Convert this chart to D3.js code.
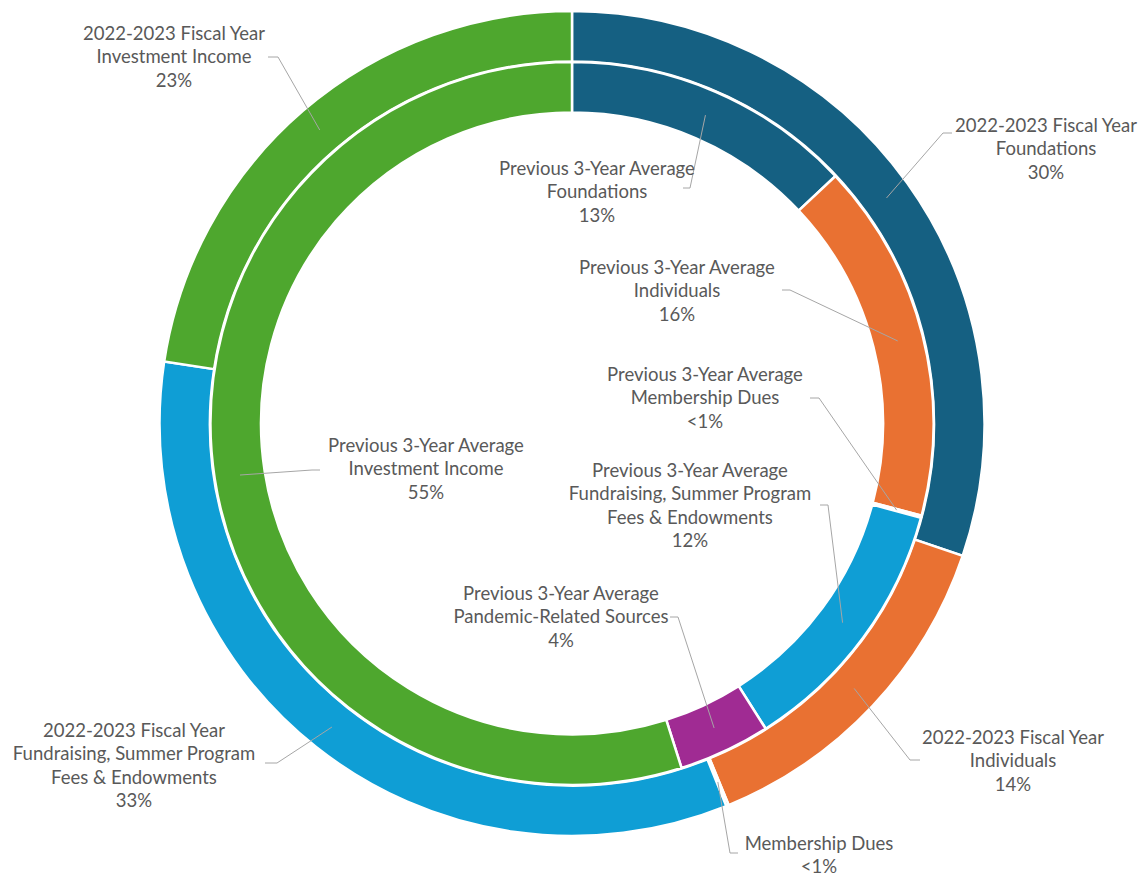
<!DOCTYPE html>
<html>
<head>
<meta charset="utf-8">
<script src="https://cdn.jsdelivr.net/npm/d3@7"></script>
<style>
  html, body { margin: 0; padding: 0; background: #ffffff; }
  svg { display: block; }
</style>
</head>
<body>
<svg id="chart" width="1141" height="876"></svg>
<script>
// ---------------- DATA ----------------
const categories = ["Foundations", "Individuals", "Membership Dues",
  "Fundraising, Summer Program Fees & Endowments", "Pandemic-Related Sources", "Investment Income"];
const categoryLines = [["Foundations"], ["Individuals"], ["Membership Dues"],
  ["Fundraising, Summer Program", "Fees & Endowments"], ["Pandemic-Related Sources"], ["Investment Income"]];
const outerSeriesName = "2022-2023 Fiscal Year";
const innerSeriesName = "Previous 3-Year Average";
const outerValues = [30.2, 13.6, 0.1, 33.5, 0, 22.6];
const innerValues = [13.0, 16.1, 0.1, 11.8, 4.1, 54.9];
const outerPctLabels = ["30%", "14%", "<1%", "33%", "", "23%"];
const innerPctLabels = ["13%", "16%", "<1%", "12%", "4%", "55%"];
const colors = ["#156082", "#E97132", "#196B24", "#0F9ED5", "#A02B93", "#4EA72E"];

// ---------------- LAYOUT ----------------
const W = 1141, H = 876;
const cx = 572, cy = 423.5;
const rings = {
  outer: { inner: 362, outer: 412.5, mid: 387 },
  inner: { inner: 311, outer: 361.5, mid: 336 }
};
const FONT = "Lato, 'Open Sans', sans-serif";
const lineGap = 23.5;
// label placement (layout only): ring, category index, text center x, first-line center y, leader start & elbow
const labelLayout = [
  { ring: "outer", i: 0, x: 1046, y: 125, start: [952, 133], elbow: [943, 133], series: true },
  { ring: "outer", i: 1, x: 1013, y: 737, start: [920, 760], elbow: [910, 760], series: true },
  { ring: "outer", i: 2, x: 819,  y: 843, start: [738, 853], elbow: [730, 853], series: false },
  { ring: "outer", i: 3, x: 134,  y: 730, start: [265, 763], elbow: [277, 763], series: true },
  { ring: "outer", i: 5, x: 174,  y: 33,  start: [268, 57],  elbow: [278, 57],  series: true },
  { ring: "inner", i: 0, x: 597,  y: 168, start: [683, 188], elbow: [690, 188], series: true },
  { ring: "inner", i: 1, x: 677,  y: 267, start: [782, 290], elbow: [790, 290], series: true },
  { ring: "inner", i: 2, x: 705,  y: 374, start: [810, 398], elbow: [819, 398], series: true },
  { ring: "inner", i: 3, x: 690,  y: 470, start: [820, 505], elbow: [828, 505], series: true },
  { ring: "inner", i: 4, x: 561,  y: 593, start: [670, 617], elbow: [678, 617], series: true },
  { ring: "inner", i: 5, x: 426,  y: 445, start: [320, 470], elbow: [312, 470], series: true }
];

const svg = d3.select("#chart");
svg.append("rect").attr("width", W).attr("height", H).attr("fill", "#ffffff");

// font size fitted so the series-name line has the reference width
const probe = svg.append("text").style("font-family", FONT).style("font-size", "100px").text(innerSeriesName);
const pw = probe.node().getComputedTextLength();
probe.remove();
const fs = pw > 0 ? 100 * 196 / pw : 18;

const pie = d3.pie().sort(null).value(d => d).startAngle(0).endAngle(2 * Math.PI);
const outerArcs = pie(outerValues);
const innerArcs = pie(innerValues);

const g = svg.append("g").attr("transform", `translate(${cx},${cy})`);

function drawRing(arcs, r) {
  const arcGen = d3.arc().innerRadius(r.inner).outerRadius(r.outer);
  g.append("g").selectAll("path")
    .data(arcs.filter(d => d.value > 0))
    .join("path")
    .attr("d", arcGen)
    .attr("fill", d => colors[d.index])
    .attr("stroke", "#ffffff")
    .attr("stroke-width", 2.5)
    .attr("stroke-linejoin", "miter");
}
drawRing(outerArcs, rings.outer);
drawRing(innerArcs, rings.inner);

// leader lines + labels
const leaders = svg.append("g");
const labels = svg.append("g");
labelLayout.forEach(L => {
  const arcs = L.ring === "outer" ? outerArcs : innerArcs;
  const r = rings[L.ring];
  const a = arcs[L.i];
  const cent = d3.arc().innerRadius(r.mid).outerRadius(r.mid).centroid(a);
  const end = [cx + cent[0], cy + cent[1]];
  leaders.append("polyline")
    .attr("points", [L.start, L.elbow, end].map(p => p.join(",")).join(" "))
    .attr("fill", "none")
    .attr("stroke", "#a6a6a6")
    .attr("stroke-width", 1);

  const lines = [];
  if (L.series) lines.push(L.ring === "outer" ? outerSeriesName : innerSeriesName);
  categoryLines[L.i].forEach(s => lines.push(s));
  lines.push(L.ring === "outer" ? outerPctLabels[L.i] : innerPctLabels[L.i]);

  const t = labels.append("text")
    .attr("text-anchor", "middle")
    .style("font-family", FONT)
    .style("font-size", fs + "px")
    .attr("fill", "#595959");
  lines.forEach((s, k) => {
    t.append("tspan")
      .attr("x", L.x)
      .attr("y", L.y + k * lineGap + fs * 0.36)
      .text(s);
  });
});
</script>
</body>
</html>
